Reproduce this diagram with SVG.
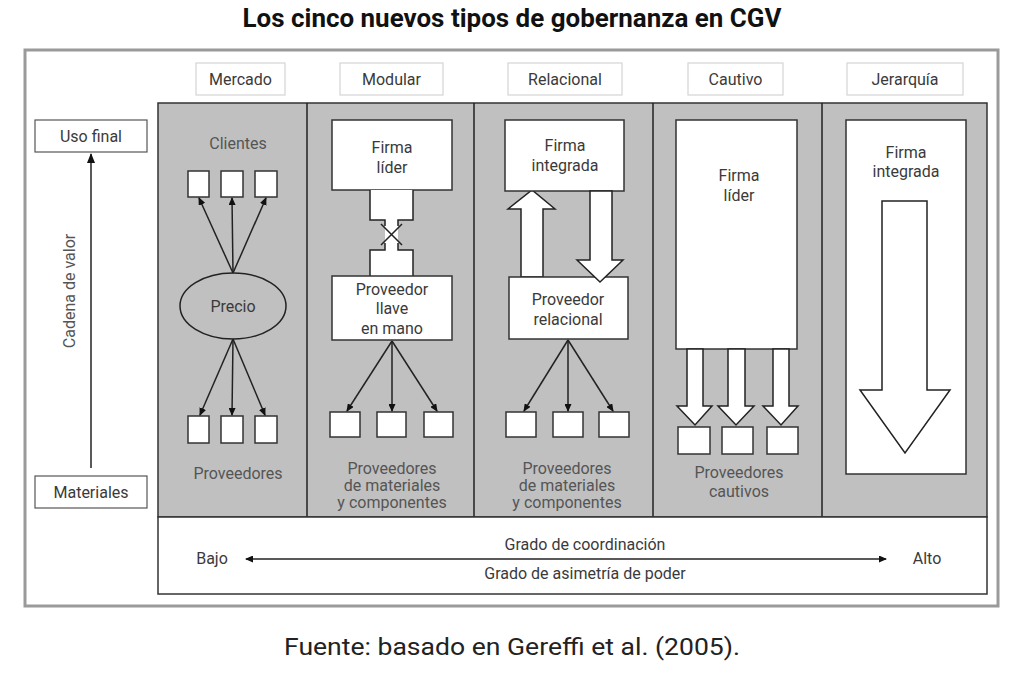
<svg xmlns="http://www.w3.org/2000/svg" width="1024" height="680" viewBox="0 0 1024 680">
<defs>
<marker id="ah" markerUnits="userSpaceOnUse" markerWidth="10" markerHeight="8" refX="9" refY="4" orient="auto">
<path d="M0,0 L10,4 L0,8 z" fill="#111"/>
</marker>
<marker id="ahs" markerUnits="userSpaceOnUse" markerWidth="8" markerHeight="7" refX="7" refY="3.5" orient="auto-start-reverse">
<path d="M0,0 L8,3.5 L0,7 z" fill="#111"/>
</marker>
</defs>
<style>
text{font-family:Roboto,"Liberation Sans",sans-serif;fill:#3a3a3a;font-size:16px;text-anchor:middle}
.title{font-weight:bold;fill:#111;font-size:25px}
.src{fill:#222;font-size:24px}
.hdr{fill:#fff;stroke:#d4d4d4;stroke-width:1.2}
.box{fill:#fff;stroke:#333;stroke-width:1.5}
.lbox{fill:#fff;stroke:#555;stroke-width:1.2}
.ln{stroke:#222;stroke-width:1.5;fill:none}
.hollow{fill:#fff;stroke:#222;stroke-width:1.5}
.lbl{fill:#555}
</style>
<text class="title" x="512" y="27" textLength="539" lengthAdjust="spacingAndGlyphs">Los cinco nuevos tipos de gobernanza en CGV</text>
<rect x="25" y="50" width="973" height="556" fill="#fff" stroke="#9a9a9a" stroke-width="3"/>
<g id="headers">
<rect class="hdr" x="196" y="63" width="89" height="32"/><text x="240.5" y="85">Mercado</text>
<rect class="hdr" x="340" y="63" width="103" height="32"/><text x="391.5" y="85">Modular</text>
<rect class="hdr" x="508" y="63" width="114" height="32"/><text x="565" y="85">Relacional</text>
<rect class="hdr" x="688" y="63" width="95" height="32"/><text x="735.5" y="85">Cautivo</text>
<rect class="hdr" x="847" y="63" width="116" height="32"/><text x="905" y="85">Jerarquía</text>
</g>
<g id="panel">
<rect x="158" y="103" width="829" height="414" fill="#c0c0c0" stroke="#333" stroke-width="1.5"/>
<line class="ln" x1="307" y1="103" x2="307" y2="517"/>
<line class="ln" x1="474" y1="103" x2="474" y2="517"/>
<line class="ln" x1="653" y1="103" x2="653" y2="517"/>
<line class="ln" x1="822" y1="103" x2="822" y2="517"/>
<rect x="158" y="517" width="829" height="77" fill="#fff" stroke="#333" stroke-width="1.5"/>
</g>
<g id="value-chain">
<rect class="lbox" x="35" y="120" width="112" height="32"/><text x="91" y="142">Uso final</text>
<rect class="lbox" x="35" y="476" width="112" height="32"/><text x="91" y="498">Materiales</text>
<text class="lbl" transform="translate(75,291) rotate(-90)">Cadena de valor</text>
</g>
<g id="mercado">
<text class="lbl" x="238" y="149">Clientes</text>
<rect class="box" x="188" y="171" width="21" height="26"/>
<rect class="box" x="221" y="171" width="22" height="26"/>
<rect class="box" x="255" y="171" width="22" height="26"/>
<ellipse cx="233" cy="306" rx="53" ry="33" fill="#c0c0c0" stroke="#222" stroke-width="1.5"/>
<text x="233" y="312">Precio</text>
<rect class="box" x="188" y="416" width="21" height="27"/>
<rect class="box" x="221" y="416" width="22" height="27"/>
<rect class="box" x="255" y="416" width="22" height="27"/>
<text class="lbl" x="238" y="479">Proveedores</text>
</g>
<g id="modular">
<rect class="box" x="332" y="120" width="120" height="70"/>
<text x="392" y="153">Firma</text><text x="392" y="173">líder</text>
<rect x="370" y="190" width="43" height="30" fill="#fff"/>
<rect x="385" y="219" width="13" height="32" fill="#fff"/>
<rect x="370" y="250" width="43" height="27" fill="#fff"/>
<path class="ln" d="M370,190 V220 H385 V226 M413,190 V220 H398 V226 M381,224 L402,245 M402,224 L381,245 M385,243 V250 H370 V277 M398,243 V250 H413 V277"/>
<rect class="box" x="332" y="276" width="120" height="64"/>
<text x="392" y="295">Proveedor</text><text x="392" y="314">llave</text><text x="392" y="334">en mano</text>
<rect class="box" x="330" y="412" width="30" height="25"/>
<rect class="box" x="377" y="412" width="29" height="25"/>
<rect class="box" x="424" y="412" width="29" height="25"/>
<text class="lbl" x="392" y="474">Proveedores</text>
<text class="lbl" x="392" y="491">de materiales</text>
<text class="lbl" x="392" y="508">y componentes</text>
</g>
<g id="relacional">
<polygon class="hollow" points="521,277 521,209 508,209 532,190 555,209 543,209 543,277"/>
<rect class="box" x="505" y="120" width="119" height="71"/>
<text x="565" y="151">Firma</text><text x="565" y="171">integrada</text>
<rect class="box" x="509" y="277" width="119" height="62"/>
<text x="568" y="305">Proveedor</text><text x="568" y="325">relacional</text>
<polygon class="hollow" points="590,191 612,191 612,260 623,260 600,282 577,260 590,260"/>
<rect class="box" x="506" y="412" width="30" height="25"/>
<rect class="box" x="553" y="412" width="30" height="25"/>
<rect class="box" x="599" y="412" width="30" height="25"/>
<text class="lbl" x="567" y="474">Proveedores</text>
<text class="lbl" x="567" y="491">de materiales</text>
<text class="lbl" x="567" y="508">y componentes</text>
</g>
<g id="cautivo">
<rect class="box" x="676" y="120" width="121" height="229"/>
<text x="739" y="181">Firma</text><text x="739" y="201">líder</text>
<polygon class="hollow" points="687,349 703,349 703,406 712,406 695,425 677,406 687,406"/>
<polygon class="hollow" points="728,349 745,349 745,406 754,406 736,425 718,406 728,406"/>
<polygon class="hollow" points="773,349 789,349 789,406 798,406 781,425 763,406 773,406"/>
<rect class="box" x="678" y="427" width="32" height="27"/>
<rect class="box" x="722" y="427" width="31" height="27"/>
<rect class="box" x="767" y="427" width="31" height="27"/>
<text class="lbl" x="739" y="478">Proveedores</text>
<text class="lbl" x="739" y="497">cautivos</text>
</g>
<g id="jerarquia">
<rect class="box" x="846" y="120" width="120" height="354"/>
<text x="906" y="158">Firma</text><text x="906" y="177">integrada</text>
<polygon class="hollow" points="882,201 927,201 927,390 950,390 905,453 860,390 882,390"/>
</g>
<g id="connectors">
<line class="ln" x1="91" y1="468" x2="91" y2="154" stroke="#111" stroke-width="3" marker-end="url(#ah)"/>
<line class="ln" x1="233" y1="273" x2="199" y2="198" marker-end="url(#ahs)"/>
<line class="ln" x1="233" y1="273" x2="232" y2="198" marker-end="url(#ahs)"/>
<line class="ln" x1="233" y1="273" x2="266" y2="198" marker-end="url(#ahs)"/>
<line class="ln" x1="233" y1="339" x2="200" y2="415" marker-end="url(#ahs)"/>
<line class="ln" x1="233" y1="339" x2="232" y2="415" marker-end="url(#ahs)"/>
<line class="ln" x1="233" y1="339" x2="265" y2="415" marker-end="url(#ahs)"/>
<line class="ln" x1="392" y1="341" x2="347" y2="411" marker-end="url(#ahs)"/>
<line class="ln" x1="392" y1="341" x2="392" y2="411" marker-end="url(#ahs)"/>
<line class="ln" x1="392" y1="341" x2="437" y2="411" marker-end="url(#ahs)"/>
<line class="ln" x1="568" y1="340" x2="524" y2="411" marker-end="url(#ahs)"/>
<line class="ln" x1="568" y1="340" x2="568" y2="411" marker-end="url(#ahs)"/>
<line class="ln" x1="568" y1="340" x2="613" y2="411" marker-end="url(#ahs)"/>
<line class="ln" x1="246" y1="559" x2="886" y2="559" stroke-width="2" marker-start="url(#ahs)" marker-end="url(#ahs)"/>
</g>
<g id="scale">
<text x="212" y="564">Bajo</text>
<text x="927" y="564">Alto</text>
<text x="585" y="550">Grado de coordinación</text>
<text x="585" y="579">Grado de asimetría de poder</text>
</g>
<text class="src" x="512" y="655" textLength="456" lengthAdjust="spacingAndGlyphs">Fuente: basado en Gereffi et al. (2005).</text>
</svg>
